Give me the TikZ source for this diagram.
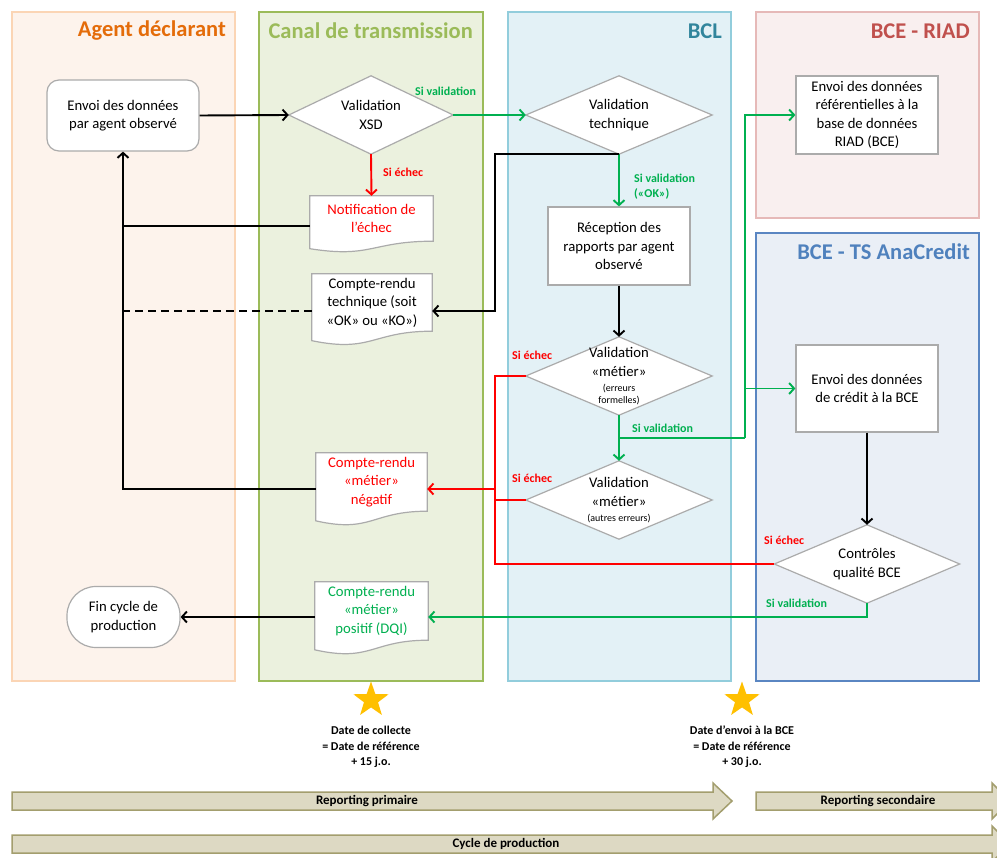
\documentclass[tikz,border=0pt]{standalone}
\usepackage{fontspec}
\setmainfont{Carlito}
\usetikzlibrary{shapes.geometric,arrows.meta,calc}
\definecolor{agentfill}{HTML}{FDF3EC}
\definecolor{agentline}{HTML}{FBD5B5}
\definecolor{agentttl}{HTML}{E46C0A}
\definecolor{canalfill}{HTML}{EBF1DE}
\definecolor{canalline}{HTML}{9BBB59}
\definecolor{bclfill}{HTML}{E3F1F6}
\definecolor{bclline}{HTML}{92CDDC}
\definecolor{bclttl}{HTML}{31859C}
\definecolor{riadfill}{HTML}{F9EFEF}
\definecolor{riadline}{HTML}{E6B9B8}
\definecolor{riadttl}{HTML}{C0504D}
\definecolor{anafill}{HTML}{EAEFF6}
\definecolor{analine}{HTML}{5A86C2}
\definecolor{anattl}{HTML}{4F81BD}
\definecolor{boxgray}{HTML}{ABABAB}
\definecolor{okgreen}{HTML}{00B050}
\definecolor{kored}{HTML}{FF0000}
\definecolor{gold}{HTML}{FFC000}
\definecolor{tanfill}{HTML}{DDD9C3}
\definecolor{tanline}{HTML}{A39E6E}
\pgfdeclarelayer{bg}
\pgfdeclarelayer{outl}
\pgfsetlayers{bg,outl,main}
\newcommand\dgdoc[1]{\begin{pgfonlayer}{outl}\draw[outline] let \p1=(#1.north west), \p2=(#1.south east), \n1={\y1-\y2} in (\p1) -- (\x2,\y1) -- (\p2) .. controls ({(\x1+\x2)/2},\y2) and ({(\x1+\x2)/2},{\y2-0.381*\n1}) .. (\x1,{\y2-0.165*\n1}) -- cycle;\end{pgfonlayer}}
\newcommand\dgdia[1]{\begin{pgfonlayer}{outl}\draw[outline] (#1.west) -- (#1.north) -- (#1.east) -- (#1.south) -- cycle;\end{pgfonlayer}}
\newcommand\dgsmall{\fontsize{10}{12}\selectfont}
\tikzset{
  lane/.style={line width=2pt},
  ttl/.style={font=\fontsize{22.5}{26}\selectfont\bfseries, inner sep=0pt, anchor=east},
  outline/.style={draw=boxgray, fill=white, line width=1.2pt},
  txt/.style={align=center, inner sep=0pt, font=\fontsize{14.7}{18.5}\selectfont},
  rbox/.style={txt, draw=boxgray, fill=white, line width=1.2pt},
  lbl/.style={font=\fontsize{12}{14.5}\selectfont\bfseries, inner sep=0pt, anchor=west, align=left},
  conn/.style={line width=1.9pt},
  arr/.style={conn, -{Straight Barb[length=5pt,width=11pt]}},
  blk/.style={black},
  grn/.style={okgreen},
  rd/.style={kored},
  bar/.style={draw=tanline, fill=tanfill, line width=1.5pt},
  bartxt/.style={font=\fontsize{13}{15}\selectfont\bfseries, inner sep=0pt},
  startxt/.style={font=\fontsize{12}{15.5}\selectfont\bfseries, align=center, inner sep=0pt},
  staricon/.style={star, star points=5, star point ratio=2.5, fill=gold, draw=none, minimum size=37pt, inner sep=0pt}
}
\begin{document}
\begin{tikzpicture}[x=1pt,y=-1pt]
\useasboundingbox (0,0) rectangle (997,858);
\begin{pgfonlayer}{bg}
\fill[white] (0,0) rectangle (997,858);
\draw[lane, draw=agentline, fill=agentfill] (12,12) rectangle (235,681);
\draw[lane, draw=canalline, fill=canalfill] (259,12) rectangle (483,681);
\draw[lane, draw=bclline, fill=bclfill] (508,12) rectangle (731,681);
\draw[lane, draw=riadline, fill=riadfill] (756,12) rectangle (979,218);
\draw[lane, draw=analine, fill=anafill] (756,233) rectangle (979,681);
\end{pgfonlayer}
% titles
\node[ttl, text=agentttl] (tagent) at (226,31) {Agent déclarant};
\node[ttl, text=canalline] (tcanal) at (473,31) {Canal de transmission};
\node[ttl, text=bclttl] (tbcl) at (722,31) {BCL};
\node[ttl, text=riadttl] (triad) at (970,31) {BCE - RIAD};
\node[ttl, text=anattl] (tana) at (970,252) {BCE - TS AnaCredit};
% nodes
\node[rbox, minimum width=152pt, minimum height=71pt, rounded corners=12pt] (envoi) at (123,115.5) {Envoi des données\\par agent observé};
\node[rbox, minimum width=113pt, minimum height=61pt, rounded corners=29pt] (fin) at (123.5,617) {Fin cycle de\\production};
\node[txt, minimum width=164pt, minimum height=78pt] (xsd) at (371,115) {Validation\\XSD};
\dgdia{xsd}
\node[txt, minimum width=186pt, minimum height=78pt] (tech) at (619,115) {Validation\\technique};
\dgdia{tech}
\node[rbox, minimum width=142pt, minimum height=78pt] (recv) at (619,246) {Réception des\\rapports par agent\\observé};
\node[txt, minimum width=186pt, minimum height=78pt] (met1) at (619,376) {Validation\\«métier»\\[-3.5pt]{\dgsmall(erreurs}\\[-6.5pt]{\dgsmall formelles)}};
\dgdia{met1}
\node[txt, minimum width=186pt, minimum height=78pt] (met2) at (619,500) {Validation\\«métier»\\[-3.5pt]{\dgsmall(autres erreurs)}};
\dgdia{met2}
\node[rbox, minimum width=142pt, minimum height=78pt] (riad) at (867,115) {Envoi des données\\référentielles à la\\base de données\\RIAD (BCE)};
\node[rbox, minimum width=142pt, minimum height=87pt] (cred) at (867,388.5) {Envoi des données\\de crédit à la BCE};
\node[txt, minimum width=185pt, minimum height=78pt] (ctrl) at (867,564) {Contrôles\\qualité BCE};
\dgdia{ctrl}
\node[txt, text=kored, minimum width=123pt, minimum height=45pt] (notif) at (371.5,218.5) {Notification de\\l’échec};
\dgdoc{notif}
\node[txt, minimum width=120pt, minimum height=57pt] (crt) at (372,302.5) {Compte-rendu\\technique (soit\\«OK» ou «KO»)};
\dgdoc{crt}
\node[txt, text=kored, minimum width=111pt, minimum height=58pt] (neg) at (371.5,482) {Compte-rendu\\«métier»\\négatif};
\dgdoc{neg}
\node[txt, text=okgreen, minimum width=113pt, minimum height=58pt] (pos) at (371.5,611) {Compte-rendu\\«métier»\\positif (DQI)};
\dgdoc{pos}
% helper coordinates
\coordinate (bx) at (495,311);
\coordinate (rj) at (495,564);
\coordinate (gj) at (619,438);
\coordinate (gx) at (745,438);
\coordinate (crtw) at ([yshift=-8.5pt]crt.west);
\coordinate (negw) at ([yshift=-7pt]neg.west);
\coordinate (notw) at ([yshift=-7.5pt]notif.west);
% connectors
\draw[arr, blk] (envoi.east) -- (xsd.west);
\draw[arr, grn] (xsd.east) -- (tech.west);
\draw[arr, rd] (xsd.south) -- (notif.north);
\draw[conn, blk] (notw) -- (envoi.south |- notw);
\draw[arr, blk] (negw) -- (envoi.south |- negw) -- (envoi.south);
\draw[conn, blk, dashed, dash pattern=on 8pt off 5pt] (crtw) -- (envoi.south |- crtw);
\draw[arr, grn] (tech.south) -- (recv.north);
\draw[arr, blk] (tech.south) -| (bx) -- (crt.east |- bx);
\draw[arr, blk] (recv.south) -- (met1.north);
\draw[arr, grn] (met1.south) -- (met2.north);
\draw[conn, grn] (gj) -- (gx);
\draw[arr, grn] (gx) |- (riad.west);
\draw[arr, grn] (gx |- cred.west) -- (cred.west);
\draw[conn, rd] (met1.west) -| (rj) -- (ctrl.west |- rj);
\draw[conn, rd] (met2.west) -- (rj |- met2.west);
\draw[arr, rd] (rj |- negw) -- (neg.east |- negw);
\draw[arr, blk] (cred.south) -- (ctrl.north);
\draw[arr, grn] (ctrl.south) |- ([yshift=-6pt]pos.east);
\draw[arr, blk] ([yshift=-6pt]pos.west) -- (fin.east);
% labels
\node[lbl, text=okgreen] (l1) at (415,91) {Si validation};
\node[lbl, text=kored] (l2) at (383,172) {Si échec};
\node[lbl, text=okgreen, font=\fontsize{12}{15}\selectfont\bfseries] (l3) at (634,187) {Si validation\\(«OK»)};
\node[lbl, text=kored] (l4) at (512,355) {Si échec};
\node[lbl, text=okgreen] (l5) at (632,428) {Si validation};
\node[lbl, text=kored] (l6) at (512,478) {Si échec};
\node[lbl, text=kored] (l7) at (764,540) {Si échec};
\node[lbl, text=okgreen] (l8) at (766,603) {Si validation};
% stars
\node[staricon] (s1) at (371,700) {};
\node[staricon] (s2) at (742,700) {};
\node[startxt] (d1) at (371,747) {Date de collecte\\= Date de référence\\+ 15 j.o.};
\node[startxt] (d2) at (742,747) {Date d’envoi à la BCE\\= Date de référence\\+ 30 j.o.};
% bottom bars
\draw[bar] (12,792) -- (713,792) -- (713,783) -- (732,801) -- (713,819) -- (713,810) -- (12,810) -- cycle;
\draw[bar] (756,792) -- (992,792) -- (992,783) -- (1010,801) -- (992,819) -- (992,810) -- (756,810) -- cycle;
\draw[bar] (12,835) -- (992,835) -- (992,826) -- (1010,844) -- (992,862) -- (992,853) -- (12,853) -- cycle;
\node[bartxt] (b1) at (367,801) {Reporting primaire};
\node[bartxt] (b2) at (878,801) {Reporting secondaire};
\node[bartxt] (b3) at (506,844) {Cycle de production};
\end{tikzpicture}
\end{document}
